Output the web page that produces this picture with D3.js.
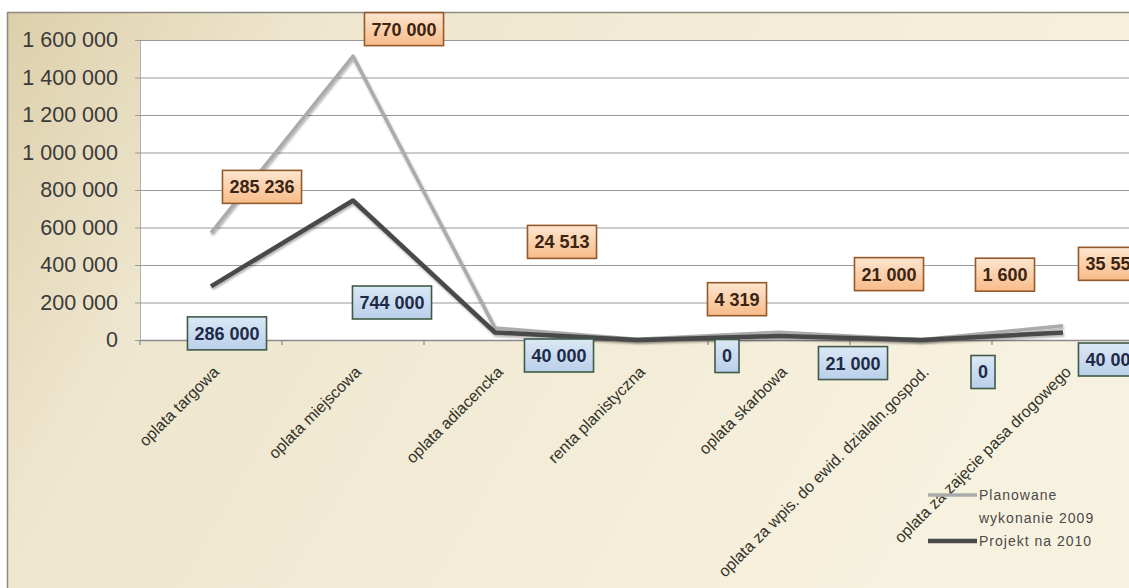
<!DOCTYPE html>
<html><head><meta charset="utf-8">
<script src="https://cdn.jsdelivr.net/npm/d3@7"></script>
<style>html,body{margin:0;padding:0;background:#fff;overflow:hidden}</style>
</head><body><svg id="c" width="1129" height="588"></svg>
<script>
const categories = ["oplata targowa","oplata miejscowa","oplata adiacencka","renta planistyczna","oplata skarbowa","oplata za wpis. do ewid. dzialaln.gospod.","oplata za zajęcie pasa drogowego"];
const projekt2010 = [286000,744000,40000,0,21000,0,40000];
const planowane2009 = [285236,770000,24513,4319,21000,1600,35559];
const seriesNames = ["Planowane wykonanie 2009","Projekt na 2010"];
const yTicks = [0,200000,400000,600000,800000,1000000,1200000,1400000,1600000];

// label placement nudges (px) relative to each point
const orangeNudge = [[51,-46],[51,-27],[67,-86],[100,-40],[110,-58],[84,-65],[50,-62]];
const blueNudge = [[16,47],[39,102],[64,23],[90,16],[74,27],[62,32],[50,27]];

const svg = d3.select("#c");
const W = 1129, H = 588;
const defs = svg.append("defs");
const bg = defs.append("linearGradient").attr("id","bg").attr("x1","0").attr("y1","0").attr("x2","1").attr("y2","0.3");
bg.append("stop").attr("offset","0").attr("stop-color","#dccfab");
bg.append("stop").attr("offset","0.25").attr("stop-color","#eee6ce");
bg.append("stop").attr("offset","1").attr("stop-color","#f7f1df");
const og = defs.append("linearGradient").attr("id","og").attr("x1","0").attr("y1","0").attr("x2","0").attr("y2","1");
og.append("stop").attr("offset","0").attr("stop-color","#fde6d0");
og.append("stop").attr("offset","1").attr("stop-color","#f8bb88");
const blg = defs.append("linearGradient").attr("id","blg").attr("x1","0").attr("y1","0").attr("x2","0").attr("y2","1");
blg.append("stop").attr("offset","0").attr("stop-color","#dbe8f6");
blg.append("stop").attr("offset","1").attr("stop-color","#b9cfe9");
const sh = defs.append("filter").attr("id","sh").attr("x","-10%").attr("y","-10%").attr("width","120%").attr("height","130%");
sh.append("feDropShadow").attr("dx",1).attr("dy",2).attr("stdDeviation",1.3).attr("flood-color","#000").attr("flood-opacity",0.3);

// chart background
svg.append("rect").attr("x",7).attr("y",12).attr("width",W-7).attr("height",H-12).attr("fill","url(#bg)");
svg.append("line").attr("x1",7).attr("x2",W).attr("y1",12.5).attr("y2",12.5).attr("stroke","#8d8a80").attr("stroke-width",1.5);
svg.append("line").attr("x1",7.5).attr("x2",7.5).attr("y1",12).attr("y2",H).attr("stroke","#8d8a80").attr("stroke-width",1.5);

const mLeft = 140, mTop = 40, mBottom = 340, bw = 142;
const x = d3.scaleBand().domain(categories).range([mLeft, mLeft + bw*categories.length]).padding(0);
const y = d3.scaleLinear().domain([0,1600000]).range([mBottom, mTop]);
const cx = c => x(c) + x.bandwidth()/2;

// plot area
svg.append("rect").attr("x",mLeft).attr("y",mTop).attr("width",W-mLeft).attr("height",mBottom-mTop).attr("fill","#ffffff");

// gridlines + y axis
const fmt = v => d3.format(",")(v).replace(/,/g," ");
const yAxis = d3.axisLeft(y).tickValues(yTicks).tickSize(-(W-mLeft)).tickSizeOuter(0).tickPadding(22).tickFormat(fmt);
const gy = svg.append("g").attr("transform",`translate(${mLeft},0)`).call(yAxis);
gy.select(".domain").attr("stroke","#b0b0b0");
gy.selectAll(".tick line").attr("stroke","#9a9a9a").attr("stroke-width",1.2).attr("x1",-5);
gy.selectAll(".tick text").attr("font-family","Liberation Sans, Arial, sans-serif").attr("font-size",21.5).attr("fill","#3a3a3a");

// x axis
const xAxis = d3.axisBottom(x).tickSize(0).tickFormat("");
const gx = svg.append("g").attr("transform",`translate(0,${mBottom})`).call(xAxis);
gx.select(".domain").attr("stroke","#8a8a8a").attr("stroke-width",1.5);
svg.append("g").selectAll("line").data(d3.range(categories.length+1)).join("line")
  .attr("x1",i=>mLeft+i*x.bandwidth()).attr("x2",i=>mLeft+i*x.bandwidth())
  .attr("y1",mBottom).attr("y2",mBottom+5).attr("stroke","#8a8a8a").attr("stroke-width",1.2);

// x labels
svg.append("g").selectAll("text").data(categories).join("text")
  .attr("transform",c=>`translate(${cx(c)+9},373) rotate(-45)`)
  .attr("text-anchor","end")
  .attr("font-family","Liberation Sans, Arial, sans-serif").attr("font-size",16)
  .attr("fill","#33332a").text(c=>c);

// stacked series
const rows = categories.map((c,i)=>({cat:c, projekt:projekt2010[i], plan:planowane2009[i]}));
const stack = d3.stack().keys(["projekt","plan"])(rows);
const line = d3.line().x(d=>cx(d.data.cat)).y(d=>y(d[1]));
svg.append("path").datum(stack[1]).attr("d",line).attr("fill","none")
  .attr("stroke","#ababab").attr("stroke-width",3.5).attr("stroke-linejoin","round").attr("filter","url(#sh)");
svg.append("path").datum(stack[0]).attr("d",line).attr("fill","none")
  .attr("stroke","#4a4a4a").attr("stroke-width",4.5).attr("stroke-linejoin","round").attr("filter","url(#sh)");

// data labels
function labels(layer, vals, nudge, fill, stroke, txt){
  const g = svg.append("g");
  layer.forEach((d,i)=>{
    const px = cx(d.data.cat) + nudge[i][0];
    const py = y(d[1]) + nudge[i][1];
    const lg = g.append("g");
    const r = lg.append("rect");
    const t = lg.append("text").attr("x",px).attr("y",py).attr("dy","0.36em")
      .attr("text-anchor","middle").attr("font-family","Liberation Sans, Arial, sans-serif")
      .attr("font-size",18).attr("font-weight","bold").attr("fill",txt).text(fmt(vals[i]));
    const w = t.node().getComputedTextLength() + 14;
    r.attr("x",px-w/2).attr("y",py-16.5).attr("width",w).attr("height",33)
      .attr("fill",fill).attr("stroke",stroke).attr("stroke-width",1.6);
  });
}
labels(stack[1], planowane2009, orangeNudge, "url(#og)", "#94592a", "#3a2412");
labels(stack[0], projekt2010, blueNudge, "url(#blg)", "#3f5a48", "#1d2b48");

// legend
const lg = svg.append("g").attr("font-family","Liberation Sans, Arial, sans-serif").attr("font-size",14).attr("fill","#4a4a4a").attr("letter-spacing",1);
lg.append("line").attr("x1",928).attr("x2",977).attr("y1",495).attr("y2",495).attr("stroke","#ababab").attr("stroke-width",3.5);
lg.append("line").attr("x1",928).attr("x2",977).attr("y1",541).attr("y2",541).attr("stroke","#4a4a4a").attr("stroke-width",4.5);
lg.append("text").attr("x",979).attr("y",495).attr("dy","0.35em").text("Planowane");
lg.append("text").attr("x",979).attr("y",518).attr("dy","0.35em").text("wykonanie 2009");
lg.append("text").attr("x",979).attr("y",541).attr("dy","0.35em").text("Projekt na 2010");
</script></body></html>
